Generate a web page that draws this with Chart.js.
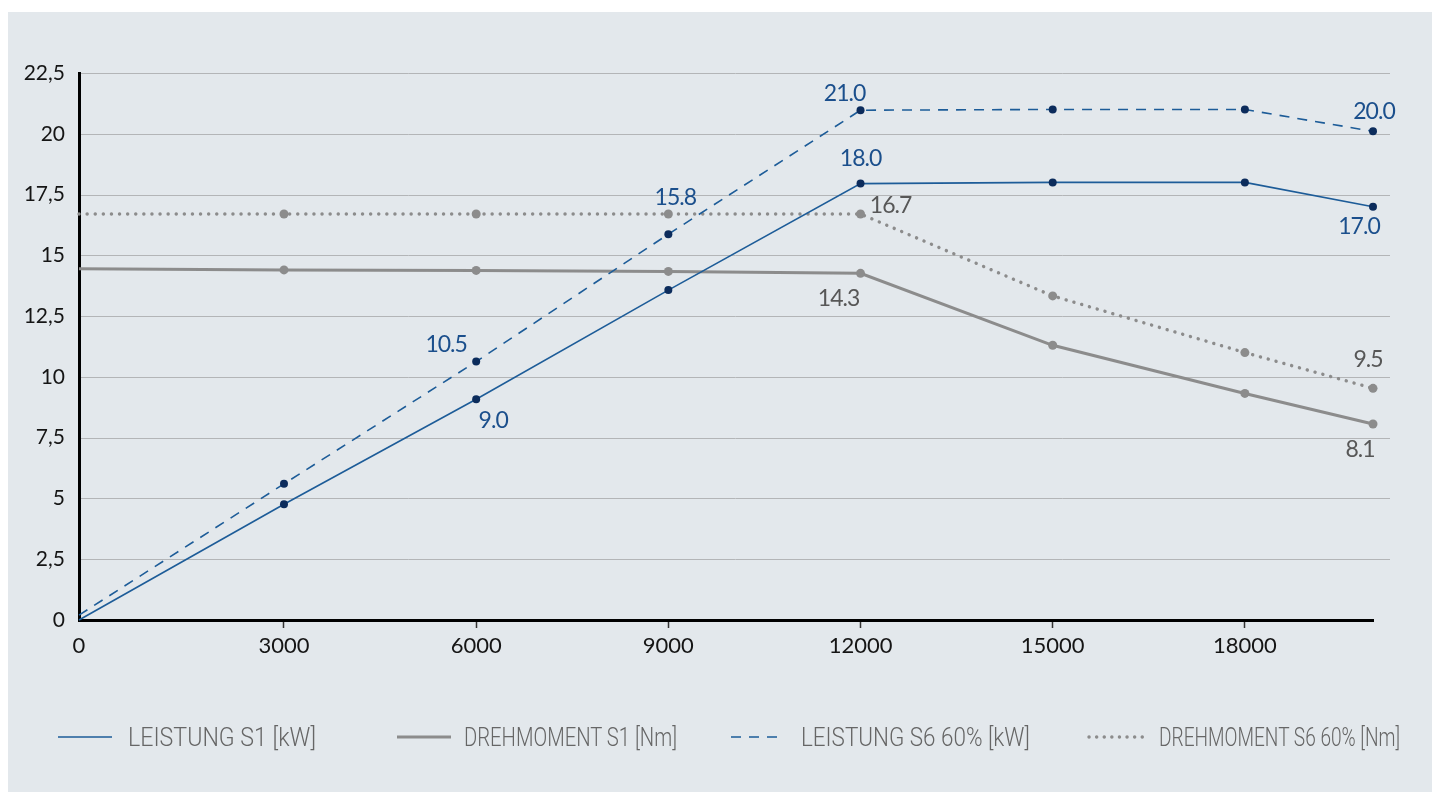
<!DOCTYPE html>
<html><head><meta charset="utf-8">
<script src="https://cdn.jsdelivr.net/npm/chart.js@4.4.1/dist/chart.umd.min.js"></script>
<style>
html,body{margin:0;padding:0;background:#fff;width:1432px;height:792px;overflow:hidden;}
#panel{position:absolute;left:8px;top:12px;width:1424px;height:780px;background:#e3e8ec;}
#wrap{position:absolute;left:0;top:0;width:1432px;height:792px;}
.leg{position:absolute;top:722px;height:30px;display:flex;align-items:center;font-family:Roboto,"Liberation Sans",sans-serif;font-weight:300;font-size:25px;color:#666;white-space:nowrap;}
.leg svg{display:block;}
.leg span{display:inline-block;transform-origin:0 50%;}
</style></head>
<body>
<div id="panel"></div>
<div id="wrap"><canvas id="c"></canvas></div>
<div id="legend"></div>
<script>
// ---- data ----
const rpm = [0, 3000, 6000, 9000, 12000, 15000, 18000, 20000];
const xTickValues = [0, 3000, 6000, 9000, 12000, 15000, 18000];
const leistungS1   = [0, 4.76, 9.08, 13.57, 17.95, 18.0, 18.0, 17.0];
const drehmomentS1 = [14.45, 14.4, 14.38, 14.34, 14.26, 11.3, 9.32, 8.06];
const leistungS6   = [0.2, 5.6, 10.63, 15.87, 20.97, 21.0, 21.0, 20.1];
const drehmomentS6 = [16.7, 16.7, 16.7, 16.7, 16.7, 13.33, 11.0, 9.53];
const seriesNames = ['LEISTUNG S1 [kW]', 'DREHMOMENT S1 [Nm]', 'LEISTUNG S6 60% [kW]', 'DREHMOMENT S6 60% [Nm]'];
const leistungS1Labels   = [null, null, '9.0', null, '18.0', null, null, '17.0'];
const drehmomentS1Labels = [null, null, null, null, '14.3', null, null, '8.1'];
const leistungS6Labels   = [null, null, '10.5', '15.8', '21.0', null, null, '20.0'];
const drehmomentS6Labels = [null, null, null, null, '16.7', null, null, '9.5'];

// ---- styles ----
const BLUE = '#1d5c98', NAVY = '#0c2c5c', BLUE_TXT = '#1b4f8c';
const GREY = '#8c8c8c', GREY_TXT = '#575757';
// label placement offsets (px) relative to the point, per dataset
const labelOffsets = [
  {2:[17,21], 4:[0,-25], 7:[-14,20]},
  {4:[-22,25], 7:[-13,26]},
  {2:[-30,-17], 3:[7,-37], 4:[-16,-17], 7:[1,-20]},
  {4:[30,-8], 7:[-5,-29]}
];
const labelSets = [leistungS1Labels, drehmomentS1Labels, leistungS6Labels, drehmomentS6Labels];
const labelColors = [BLUE_TXT, GREY_TXT, BLUE_TXT, GREY_TXT];

// x axis of the original: first interval (0..3000) is drawn slightly wider than the others
class StretchedLinear extends Chart.LinearScale {
  getPixelForValue(v){
    const first = xTickValues[1];
    if (v !== null && v < first) {
      const p0 = this.left, p1 = super.getPixelForValue(first);
      return p0 + (v / first) * (p1 - p0);
    }
    return super.getPixelForValue(v);
  }
}
StretchedLinear.id = 'stretchedLinear';
StretchedLinear.defaults = Chart.LinearScale.defaults;
Chart.register(StretchedLinear);

function pts(arr){ return rpm.map((x,i)=>({x:x, y:arr[i]})); }
const radiiBlue = rpm.map((x,i)=> i===0 ? 0 : 4);
const radiiGrey = rpm.map((x,i)=> i===0 ? 0 : 4.5);

const datasets = [
  {label:seriesNames[0], data:pts(leistungS1), borderColor:BLUE, borderWidth:1.6, pointBackgroundColor:NAVY, pointBorderWidth:0, pointRadius:radiiBlue, order:0, clip:false},
  {label:seriesNames[1], data:pts(drehmomentS1), borderColor:GREY, borderWidth:3, pointBackgroundColor:GREY, pointBorderWidth:0, pointRadius:radiiGrey, order:1, clip:false},
  {label:seriesNames[2], data:pts(leistungS6), borderColor:BLUE, borderWidth:1.6, borderDash:[10,8], pointBackgroundColor:NAVY, pointBorderWidth:0, pointRadius:radiiBlue, order:0, clip:false},
  {label:seriesNames[3], data:pts(drehmomentS6), borderColor:GREY, borderWidth:3.4, borderDash:[0.1,8], borderCapStyle:'round', pointBackgroundColor:GREY, pointBorderWidth:0, pointRadius:radiiGrey, order:1, clip:false}
];

const gridPlugin = {
  id:'gridExt',
  beforeDatasetsDraw(chart){
    const {ctx, chartArea:a, scales:{y}} = chart;
    ctx.save();
    ctx.strokeStyle = '#b3b5b7'; ctx.lineWidth = 1;
    y.ticks.forEach(t=>{
      if (t.value === 0) return;
      const py = Math.round(y.getPixelForValue(t.value)) + 0.5;
      ctx.beginPath(); ctx.moveTo(a.left+2, py); ctx.lineTo(a.right+17, py); ctx.stroke();
    });
    ctx.restore();
  }
};
const labelPlugin = {
  id:'valueLabels',
  afterDatasetsDraw(chart){
    const ctx = chart.ctx;
    ctx.save();
    ctx.font = '23px Lato';
    ctx.textAlign = 'center'; ctx.textBaseline = 'middle';
    try { ctx.letterSpacing = '-1px'; } catch(e){}
    labelSets.forEach((set, di)=>{
      const meta = chart.getDatasetMeta(di);
      set.forEach((txt, i)=>{
        if (!txt) return;
        const el = meta.data[i];
        const off = labelOffsets[di][i] || [0,-20];
        ctx.fillStyle = labelColors[di];
        ctx.fillText(txt, el.x + off[0], el.y + off[1]);
      });
    });
    ctx.restore();
  }
};

new Chart(document.getElementById('c'), {
  type:'line',
  data:{datasets},
  plugins:[gridPlugin, labelPlugin],
  options:{
    responsive:true, maintainAspectRatio:false, animation:false,
    layout:{padding:{left:0, top:73, right:59, bottom:122}},
    plugins:{legend:{display:false}, tooltip:{enabled:false}},
    elements:{line:{tension:0, fill:false}},
    scales:{
      x:{
        type:'stretchedLinear', min:-200, max:20000,
        afterBuildTicks(s){ s.ticks = xTickValues.map(v=>({value:v})); },
        afterFit(s){ s.height = 50; },
        grid:{drawOnChartArea:false, drawTicks:true, tickLength:8, tickWidth:1.5,
              tickColor:(c)=> (c.tick && c.tick.value===0) ? 'rgba(0,0,0,0)' : '#333'},
        border:{display:true, color:'#000', width:3},
        ticks:{font:{family:'Lato', size:22}, color:'#151515', padding:5, maxRotation:0,
               callback:(v)=> String(v)}
      },
      y:{
        min:0, max:22.5,
        afterBuildTicks(s){ const t=[]; for(let v=0; v<=22.5; v+=2.5) t.push({value:v}); s.ticks=t; },
        afterFit(s){ s.width = 79; },
        grid:{display:false, drawTicks:false},
        border:{display:true, color:'#000', width:3},
        ticks:{font:{family:'Lato', size:21}, color:'#151515', padding:14,
               callback:(v)=> String(v).replace('.', ',')}
      }
    }
  }
});

// ---- HTML legend ----
const legendX = [58, 397, 731, 1087];
const legendTextW = [188, 213, 229, 241];
const legendSample = [
  {w:54, color:BLUE, width:1.6, dash:''},
  {w:54, color:GREY, width:3, dash:''},
  {w:54, color:BLUE, width:1.6, dash:'10 8'},
  {w:61, color:GREY, width:3.4, dash:'0.1 7.5', cap:'round'}
];
const legendGap = [16, 13, 16, 11];
const lg = document.getElementById('legend');
seriesNames.forEach((name,i)=>{
  const s = legendSample[i];
  const d = document.createElement('div');
  d.className = 'leg'; d.style.left = legendX[i] + 'px';
  d.innerHTML = `<svg width="${s.w}" height="10"><line x1="${s.cap?2:0}" y1="5" x2="${s.w}" y2="5" stroke="${s.color}" stroke-width="${s.width}" ${s.dash?`stroke-dasharray="${s.dash}"`:''} ${s.cap?'stroke-linecap="round"':''}/></svg><span style="margin-left:${legendGap[i]}px">${name}</span>`;
  lg.appendChild(d);
  const sp = d.querySelector('span');
  const w = sp.getBoundingClientRect().width;
  if (w > 0) sp.style.transform = `scaleX(${legendTextW[i]/w})`;
});
</script>
</body></html>
